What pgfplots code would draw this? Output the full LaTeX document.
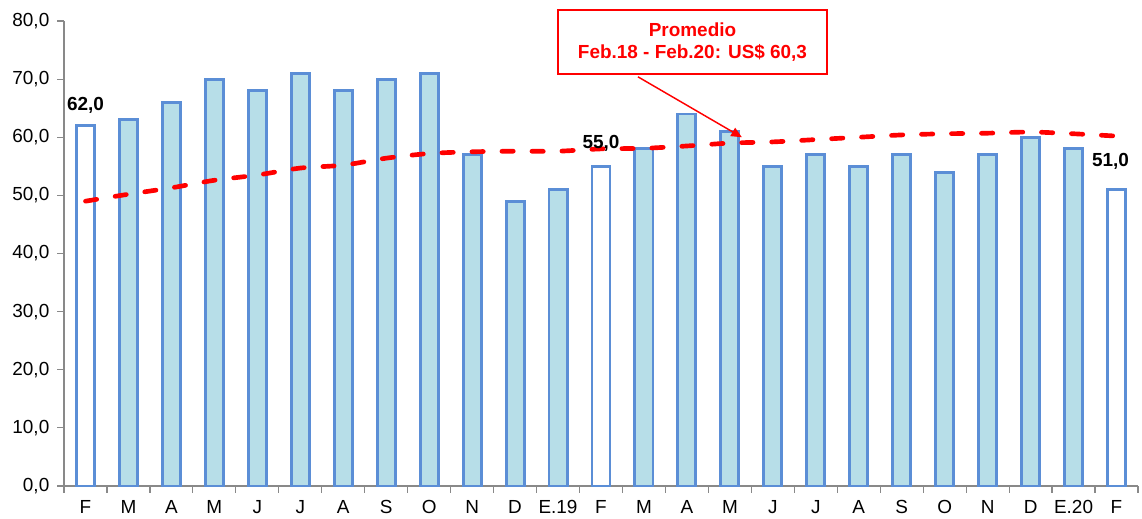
\documentclass[border=0pt]{standalone}
\usepackage{pgfplots}
\pgfplotsset{compat=1.18}
\usepackage{fontspec}
\setmainfont{Liberation Sans}
\usetikzlibrary{arrows.meta}
\definecolor{barfill}{HTML}{B7DEE8}
\definecolor{baredge}{HTML}{5B8ED6}
\definecolor{axgray}{HTML}{898989}
\begin{document}
\begin{tikzpicture}
\useasboundingbox (-48pt,-24pt) rectangle (808.5pt,364.5pt);
\begin{axis}[
  scale only axis, width=805.5pt, height=348.75pt,
  xmin=-0.5, xmax=24.5, ymin=0, ymax=80,
  axis lines*=left,
  axis line style={axgray, line width=1pt},
  tick align=outside, major tick length=5pt,
  tick style={axgray, line width=0.9pt},
  ytick={0,10,...,80},
  xtick={-0.5,0.5,...,24.5},
  x tick label as interval,
  xticklabels={F,M,A,M,J,J,A,S,O,N,D,E.19,F,M,A,M,J,J,A,S,O,N,D,E.20,F},
  ticklabel style={font=\fontsize{14.2}{16}\selectfont},
  yticklabel style={xshift=-2.5pt, /pgf/number format/.cd, fixed, fixed zerofill, precision=1, use comma, assume math mode=true},
  xticklabel style={yshift=-2pt},
  clip=false,
]
\addplot[ybar, bar width=0.42, bar shift=0pt, fill=barfill, draw=baredge, line width=2.2pt]
  coordinates {(1,63)(2,66)(3,70)(4,68)(5,71)(6,68)(7,70)(8,71)(9,57)(10,49)(11,51)
  (13,58)(14,64)(15,61)(16,55)(17,57)(18,55)(19,57)(20,54)(21,57)(22,60)(23,58)};
\addplot[ybar, bar width=0.42, bar shift=0pt, fill=white, draw=baredge, line width=2.2pt]
  coordinates {(0,62)(12,55)(24,51)};
\addplot[red, line width=3.5pt, dash pattern=on 8.5pt off 14pt, line cap=round, smooth, mark=none]
  coordinates {(0,49.0)(1,50.2)(2,51.3)(3,52.6)(4,53.5)(5,54.7)(6,55.2)(7,56.4)(8,57.2)(9,57.5)
  (10,57.6)(11,57.6)(12,58.0)(13,58.1)(14,58.5)(15,59.0)(16,59.2)(17,59.6)(18,60.0)(19,60.4)
  (20,60.6)(21,60.7)(22,60.9)(23,60.6)(24,60.2)};
\node[font=\bfseries\fontsize{14.2}{16}\selectfont, yshift=15pt] at (axis cs:0,62) {62,0};
\node[font=\bfseries\fontsize{14.2}{16}\selectfont, yshift=17pt] at (axis cs:12,55) {55,0};
\node[font=\bfseries\fontsize{14.2}{16}\selectfont, yshift=21pt, xshift=-4.5pt] at (axis cs:24,51) {51,0};
\draw[red, line width=1.1pt, -{Triangle[length=8pt,width=7pt]}] (axis cs:12.86,70.4) -- (axis cs:15.28,60.0);
\node[draw=red, line width=1pt, fill=white, text=red, font=\bfseries\fontsize{14.2}{16.5}\selectfont,
  align=center, minimum width=201.75pt, minimum height=48pt, inner sep=0pt]
  at (axis cs:14.13,76.4) {Promedio\\Feb.18 - Feb.20: US\$ 60,3};
\end{axis}
\end{tikzpicture}
\end{document}
